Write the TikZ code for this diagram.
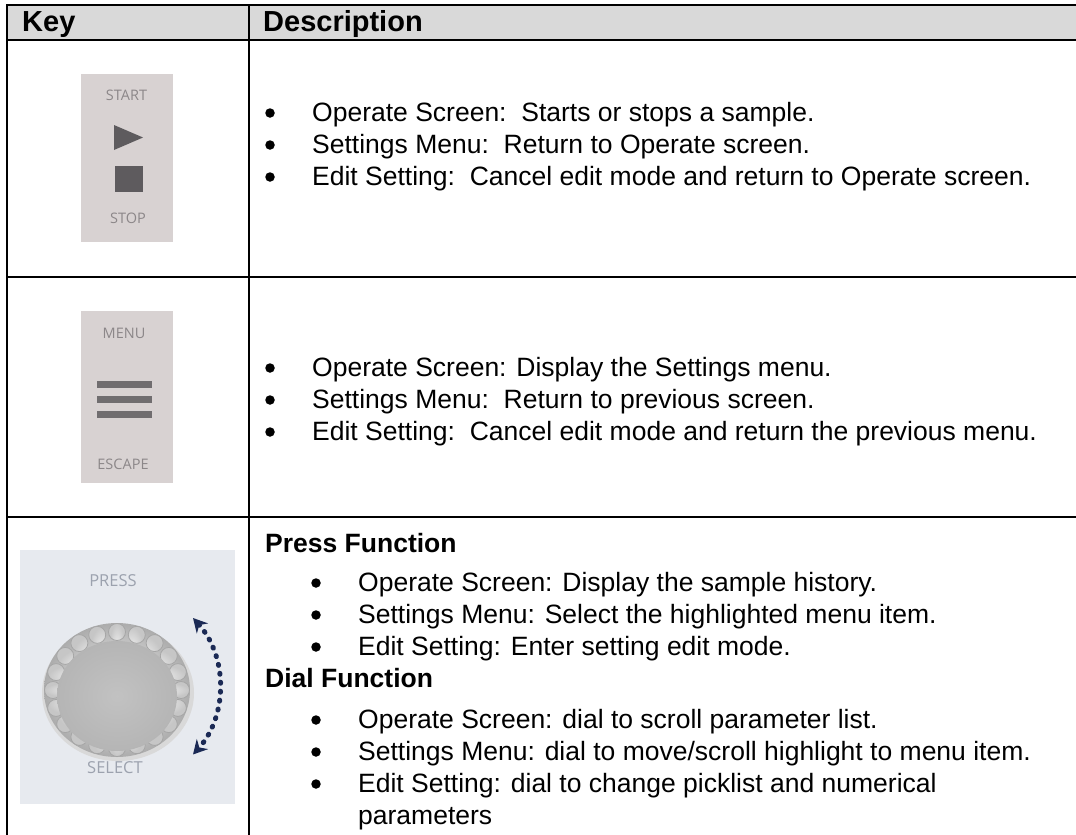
\documentclass[tikz,border=0pt]{standalone}
\usepackage{fontspec}
\setmainfont{Liberation Sans}
\newfontfamily\panelfont{Open Sans}
\usetikzlibrary{arrows.meta}
\definecolor{headgray}{HTML}{D9D9D9}
\definecolor{keypanel}{HTML}{D8D2D2}
\definecolor{keyprint}{HTML}{8C8789}
\definecolor{keymark}{HTML}{5E5B5E}
\definecolor{dialpanel}{HTML}{E7EAEF}
\definecolor{dialprint}{HTML}{9CA2AE}
\definecolor{dialarrow}{HTML}{1B2A55}
% bullet line: name, bullet x, baseline, text
\newcommand{\keyitem}[4]{%
  \node[dot] (#1dot) at (#2,#3-8) {};
  \node[desc] (#1) at (#2+42,#3) {#4};
}

\begin{document}
\begin{tikzpicture}[x=1pt, y=-1pt,
    grid/.style={line width=2},
    desc/.style={anchor=base west, inner sep=0, font=\fontsize{26.5}{32}\selectfont},
    head/.style={anchor=base west, inner sep=0, font=\fontsize{29}{34}\selectfont\bfseries},
    sub/.style={anchor=base west, inner sep=0, font=\fontsize{26.5}{32}\selectfont\bfseries},
    dot/.style={circle, fill=black, inner sep=0, minimum size=9.5},
    keylbl/.style={inner sep=0, text=keyprint, font=\panelfont\fontsize{14.5}{16}\selectfont},
    diallbl/.style={inner sep=0, text=dialprint, font=\panelfont\fontsize{16.5}{18}\selectfont}]
  \useasboundingbox (0,0) rectangle (1076,835);
  \fill[white] (0,0) rectangle (1076,835);

  % table
  \fill[headgray] (7,5) rectangle (1076,40);
  \draw[grid] (6,5) -- (1076,5);
  \draw[grid] (6,40) -- (1076,40);
  \draw[grid] (6,277) -- (1076,277);
  \draw[grid] (6,517) -- (1076,517);
  \draw[grid] (7,4) -- (7,835);
  \draw[grid] (249,4) -- (249,835);
  \node[head] (key) at (22,31) {Key};
  \node[head] (descr) at (263,31) {Description};

  % start / stop key
  \fill[keypanel] (81,74) rectangle (173,242);
  \node[keylbl] (start) at (126.5,95) {START};
  \fill[keymark] (114,125) -- (143,137.5) -- (114,150) -- cycle;
  \fill[keymark] (115,166) rectangle (143,192);
  \node[keylbl] (stop) at (128,218) {STOP};

  \keyitem{a1}{270}{121}{Operate Screen:\ \ Starts or stops a sample.}
  \keyitem{a2}{270}{153}{Settings Menu:\ \ Return to Operate screen.}
  \keyitem{a3}{270}{185}{Edit Setting:\ \ Cancel edit mode and return to Operate screen.}

  % menu / escape key
  \fill[keypanel] (81,311) rectangle (173,483);
  \node[keylbl] (menu) at (124,333) {MENU};
  \fill[keymark!85!keypanel] (97,381) rectangle (152,388);
  \fill[keymark!85!keypanel] (97,396) rectangle (152,403);
  \fill[keymark!85!keypanel] (97,411) rectangle (152,418);
  \node[keylbl] (escape) at (123,464) {ESCAPE};

  \keyitem{b1}{270}{376}{Operate Screen: Display the Settings menu.}
  \keyitem{b2}{270}{408}{Settings Menu:\ \ Return to previous screen.}
  \keyitem{b3}{270}{440}{Edit Setting:\ \ Cancel edit mode and return the previous menu.}

  % press / select dial
  \fill[dialpanel] (20,550) rectangle (235,804);
  \node[diallbl] (press) at (113,581) {PRESS};
  \fill[gray!30] (118,693) ellipse [x radius=76, y radius=68];
  \shade[inner color=white, outer color=gray!65] (117,690) ellipse [x radius=73, y radius=67];
  \foreach \a in {0,18,...,342}
    \shade[draw=gray!70, line width=0.8, inner color=white, outer color=gray!45]
      (117,690) ++(\a:64 and 58) circle [radius=8.5];
  \shade[inner color=gray!48, outer color=gray!58] (117,696) ellipse [x radius=60, y radius=55];
  \node[diallbl] (select) at (115,768) {SELECT};
  \coordinate (dialtop) at (193,618);
  \draw[dialarrow, line width=5, dash pattern=on 1pt off 8pt, line cap=round,
        {Stealth[length=14, width=15]}-{Stealth[length=14, width=15]}]
    (dialtop) arc [start angle=-42, end angle=42, radius=102];

  \node[sub] (pressfn) at (265,552) {Press Function};
  \keyitem{c1}{316}{591}{Operate Screen: Display the sample history.}
  \keyitem{c2}{316}{623}{Settings Menu: Select the highlighted menu item.}
  \keyitem{c3}{316}{655}{Edit Setting: Enter setting edit mode.}
  \node[sub] (dialfn) at (265,687) {Dial Function};
  \keyitem{d1}{316}{728}{Operate Screen: dial to scroll parameter list.}
  \keyitem{d2}{316}{760}{Settings Menu: dial to move/scroll highlight to menu item.}
  \keyitem{d3}{316}{792}{Edit Setting: dial to change picklist and numerical}
  \node[desc] (d3b) at (358,824) {parameters};
\end{tikzpicture}
\end{document}
